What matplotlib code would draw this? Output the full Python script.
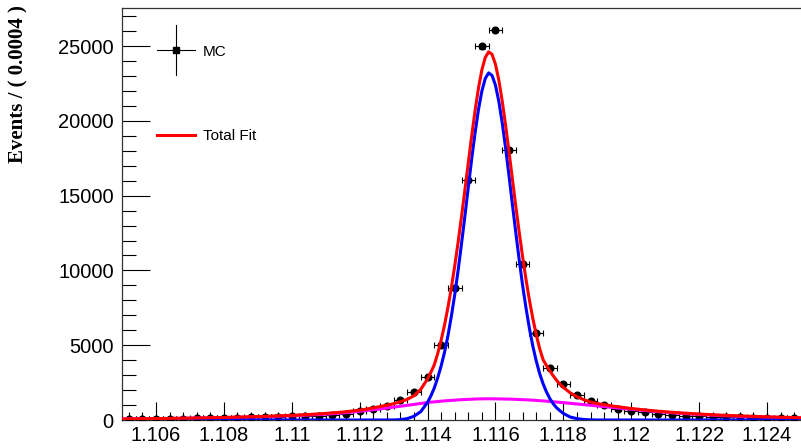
import numpy as np
import matplotlib
matplotlib.use("Agg")
import matplotlib.pyplot as plt
from matplotlib.ticker import MultipleLocator, FuncFormatter

# ---- data (histogram, bin width 0.0004) ----
bin_centers = [1.1052, 1.1056, 1.1060, 1.1064, 1.1068, 1.1072, 1.1076, 1.1080, 1.1084, 1.1088,
               1.1092, 1.1096, 1.1100, 1.1104, 1.1108, 1.1112, 1.1116, 1.1120, 1.1124, 1.1128,
               1.1132, 1.1136, 1.1140, 1.1144, 1.1148, 1.1152, 1.1156, 1.1160, 1.1164, 1.1168,
               1.1172, 1.1176, 1.1180, 1.1184, 1.1188, 1.1192, 1.1196, 1.1200, 1.1204, 1.1208,
               1.1212, 1.1216, 1.1220, 1.1224, 1.1228, 1.1232, 1.1236, 1.1240, 1.1244, 1.1248]
counts = [100, 100, 60, 100, 100, 110, 130, 150, 160, 190,
          200, 220, 240, 260, 290, 360, 420, 580, 710, 910,
          1320, 1860, 2890, 5000, 8820, 16050, 24980, 26080, 18060, 10420,
          5840, 3460, 2390, 1680, 1240, 980, 760, 600, 510, 400,
          330, 280, 250, 220, 200, 180, 160, 150, 140, 130]
bin_half_width = 0.0002

# ---- fit curves ----
curve_x = [1.1050, 1.1060, 1.1070, 1.1080, 1.1090, 1.1100, 1.1105, 1.1110, 1.1115, 1.1120,
           1.1122, 1.1124, 1.1126, 1.1128, 1.1130, 1.1132, 1.1134, 1.1136, 1.1138,
           1.1140, 1.1141, 1.1142, 1.1143, 1.1144, 1.1145, 1.1146, 1.1147, 1.1148, 1.1149,
           1.1150, 1.1151, 1.1152, 1.1153, 1.1154, 1.1155, 1.1156, 1.1157, 1.1158, 1.1159,
           1.1160, 1.1161, 1.1162, 1.1163, 1.1164, 1.1165, 1.1166, 1.1167, 1.1168, 1.1169,
           1.1170, 1.1171, 1.1172, 1.1173, 1.1174, 1.1175, 1.1176, 1.1177, 1.1178, 1.1179,
           1.1180, 1.1182, 1.1184, 1.1186, 1.1188, 1.1190, 1.1195, 1.1200, 1.1205, 1.1210,
           1.1215, 1.1220, 1.1225, 1.1230, 1.1235, 1.1240, 1.1245, 1.1250]
total_fit = [70, 95, 125, 170, 230, 310, 370, 440, 530, 660,
             730, 810, 900, 990, 1090, 1220, 1380, 1620, 2050,
             2750, 3200, 3700, 4450, 5330, 6350, 7520, 8830, 10290, 11880,
             13590, 15380, 17200, 18990, 20690, 22190, 23410, 24240, 24620, 24450,
             23790, 22720, 21320, 19690, 17930, 16100, 14290, 12550, 10910, 9400,
             8020, 6800, 5730, 4790, 4050, 3650, 3300, 2960, 2650, 2400,
             2180, 1820, 1560, 1360, 1200, 1100, 920, 770, 650, 550,
             470, 400, 340, 290, 250, 210, 180, 150]
signal = [0, 0, 0, 0, 0, 0, 0, 0, 0, 0,
          0, 0, 0, 0, 5, 25, 90, 250, 560,
          1180, 1620, 2150, 2830, 3610, 4530, 5630, 6920, 8370, 10000,
          11780, 13630, 15560, 17450, 19200, 20760, 22000, 22840, 23210, 23040,
          22390, 21300, 19860, 18170, 16320, 14400, 12520, 10700, 9000, 7490,
          6130, 4950, 3960, 3120, 2440, 1890, 1440, 1090, 820, 620,
          440, 200, 90, 35, 10, 0, 0, 0, 0, 0,
          0, 0, 0, 0, 0, 0, 0, 0]
bkg_x = [1.1050, 1.1060, 1.1070, 1.1080, 1.1090, 1.1100, 1.1105, 1.1110, 1.1115, 1.1120,
         1.1125, 1.1130, 1.1135, 1.1140, 1.1145, 1.1150, 1.1155, 1.1158, 1.1160, 1.1165,
         1.1170, 1.1175, 1.1180, 1.1185, 1.1190, 1.1195, 1.1200, 1.1205, 1.1210, 1.1215,
         1.1220, 1.1225, 1.1230, 1.1235, 1.1240, 1.1245, 1.1250]
background = [70, 90, 120, 160, 210, 280, 330, 390, 470, 580,
              710, 860, 1010, 1170, 1280, 1360, 1410, 1420, 1415, 1390,
              1340, 1260, 1160, 1050, 940, 830, 720, 610, 520, 440,
              370, 310, 260, 220, 190, 160, 140]

x_range = (1.105, 1.125)
y_range = (0, 27550)
legend_labels = ["MC", "Total Fit"]
y_title = "Events / ( 0.0004 )"

# ---- figure ----
W, H = 801, 448
fig = plt.figure(figsize=(W / 100, H / 100), dpi=100)
ax = fig.add_axes([122 / W, 28 / H, 679 / W, 412 / H])

yerr = np.sqrt(np.array(counts, dtype=float))
ax.errorbar(bin_centers, counts, xerr=bin_half_width, yerr=yerr, fmt='o', color='black',
            markersize=4.8, elinewidth=0.8, ecolor='black', capsize=2, capthick=0.8, zorder=3)

ax.plot(bkg_x, background, color='#ff00ff', lw=2.2, zorder=4)
ax.plot(curve_x, signal, color='#0000ff', lw=2.2, zorder=5)
ax.plot(curve_x, total_fit, color='#ff0000', lw=2.2, zorder=6)

ax.set_xlim(*x_range)
ax.set_ylim(*y_range)

ax.xaxis.set_major_locator(MultipleLocator(0.002))
ax.xaxis.set_minor_locator(MultipleLocator(0.0004))
ax.yaxis.set_major_locator(MultipleLocator(5000))
ax.yaxis.set_minor_locator(MultipleLocator(1000))

def xfmt(v, pos):
    s = "%.3f" % v
    s = s.rstrip('0').rstrip('.')
    return s
ax.xaxis.set_major_formatter(FuncFormatter(xfmt))

ax.tick_params(axis='y', which='major', direction='in', length=20, width=0.8, pad=6, labelsize=14.5)
ax.tick_params(axis='y', which='minor', direction='in', length=10, width=0.8)
ax.tick_params(axis='x', which='major', direction='in', length=13, width=0.8, pad=4, labelsize=14.5)
ax.tick_params(axis='x', which='minor', direction='in', length=6, width=0.8)
for lab in ax.get_xticklabels() + ax.get_yticklabels():
    lab.set_fontfamily(['Liberation Sans', 'DejaVu Sans'])

ax.spines['right'].set_visible(False)
for s in ['left', 'top', 'bottom']:
    ax.spines[s].set_linewidth(0.9)
    ax.spines[s].set_color('#333333')

fig.text(18 / W, 1 - 5 / H, y_title, rotation=90, ha='center', va='top',
         family=['Liberation Serif', 'DejaVu Serif'], fontweight='bold', fontsize=15)

# ---- legend (drawn manually, ROOT style) ----
lx0, lx1 = (157 - 122) / 679, (195 - 122) / 679
lxc = (lx0 + lx1) / 2
ly_mc = (420 - 50) / 412
ax.plot([lx0, lx1], [ly_mc, ly_mc], transform=ax.transAxes, color='black', lw=0.8, clip_on=False)
ax.plot([lxc, lxc], [(420 - 75) / 412, (420 - 25) / 412], transform=ax.transAxes, color='black', lw=0.8, clip_on=False)
ax.plot([lxc], [ly_mc], transform=ax.transAxes, marker='s', color='black', markersize=5, clip_on=False)
ax.text((203 - 122) / 679, (420 - 52) / 412, legend_labels[0], transform=ax.transAxes,
        ha='left', va='center', family=['Liberation Sans', 'DejaVu Sans'], fontsize=11)
ly_tf = (420 - 135) / 412
ax.plot([lx0, lx1], [ly_tf, ly_tf], transform=ax.transAxes, color='#ff0000', lw=2.2, clip_on=False)
ax.text((203 - 122) / 679, (420 - 136) / 412, legend_labels[1], transform=ax.transAxes,
        ha='left', va='center', family=['Liberation Sans', 'DejaVu Sans'], fontsize=11)

fig.savefig("out.png", dpi=100)
